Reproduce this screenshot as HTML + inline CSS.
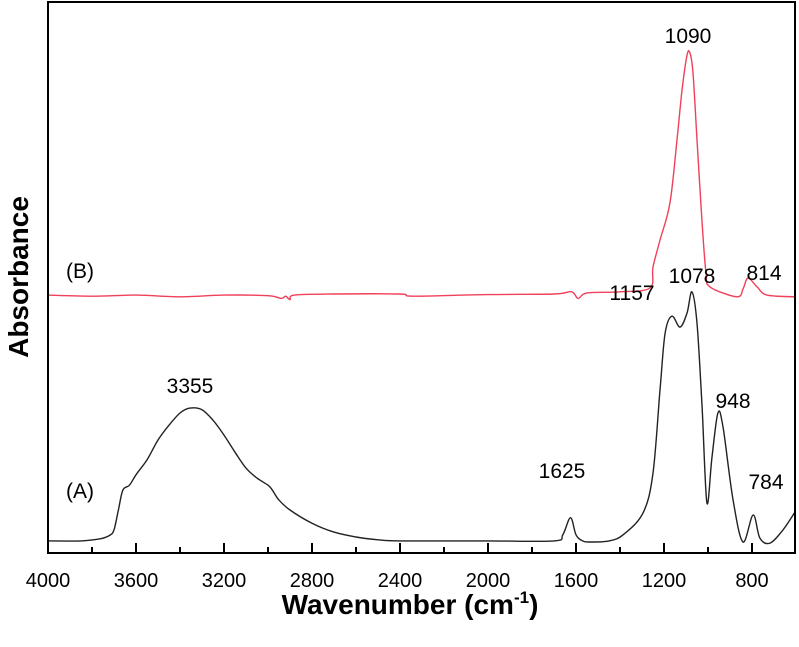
<!DOCTYPE html>
<html><head><meta charset="utf-8"><style>
html,body{margin:0;padding:0;background:#fff;}
svg{display:block;font-family:"Liberation Sans",Arial,sans-serif;}
</style></head><body>
<svg id="chart" width="799" height="647" viewBox="0 0 799 647" xmlns="http://www.w3.org/2000/svg">
<g id="ticks"></g>
<g id="series"></g>
<rect x="48" y="2" width="747" height="551" fill="none" stroke="#000" stroke-width="2"/>
<text transform="translate(28,277) rotate(-90)" text-anchor="middle" font-size="28" font-weight="bold">Absorbance</text>
<text x="410" y="614" text-anchor="middle" font-size="28" font-weight="bold">Wavenumber (cm<tspan font-size="17" dy="-11">-1</tspan><tspan dy="11">)</tspan></text>
<g font-size="21">
<text x="66" y="278">(B)</text>
<text x="66" y="498">(A)</text>
<text x="190" y="393" text-anchor="middle">3355</text>
<text x="562" y="478" text-anchor="middle">1625</text>
<text x="632" y="300" text-anchor="middle">1157</text>
<text x="692" y="283" text-anchor="middle">1078</text>
<text x="688" y="43" text-anchor="middle">1090</text>
<text x="764" y="280" text-anchor="middle">814</text>
<text x="733" y="408" text-anchor="middle">948</text>
<text x="766" y="489" text-anchor="middle">784</text>
</g>
</svg>
<script>
const xTicks=[4000,3600,3200,2800,2400,2000,1600,1200,800];
const xMinor=[3800,3400,3000,2600,2200,1800,1400,1000];
const wnA=[4000,3850,3760,3720,3700,3680,3660,3630,3600,3550,3500,3450,3400,3355,3300,3250,3200,3150,3100,3050,3000,2980,2950,2900,2800,2700,2600,2500,2400,2000,1700,1660,1625,1600,1570,1536,1450,1386,1295,1250,1218,1195,1164,1127,1095,1073,1050,1027,1005,982,955,932,886,841,795,764,718,659,605];
const absA=[.022,.022,.026,.032,.042,.078,.114,.123,.142,.169,.205,.232,.254,.263,.260,.241,.214,.183,.154,.136,.123,.114,.096,.078,.054,.038,.029,.024,.022,.022,.022,.033,.064,.033,.022,.020,.022,.033,.073,.145,.296,.399,.430,.410,.436,.474,.417,.265,.091,.174,.254,.229,.096,.020,.069,.027,.018,.042,.074];
const wnB=[4000,3800,3600,3400,3200,3000,2940,2920,2900,2880,2700,2400,2340,2000,1700,1620,1590,1550,1400,1264,1250,1218,1173,1141,1118,1095,1082,1068,1050,1027,1009,991,868,840,818,777,732,605];
const absB=[.468,.466,.468,.465,.468,.467,.462,.466,.460,.468,.470,.470,.466,.469,.470,.474,.462,.472,.474,.481,.519,.568,.635,.750,.840,.904,.907,.871,.750,.599,.508,.483,.465,.480,.499,.483,.468,.465];
const X=w=>48+(4000-w)*0.22;
const Y=a=>553-a*551;
const NS="http://www.w3.org/2000/svg";
const tg=document.getElementById('ticks');
xTicks.forEach(t=>{
 const l=document.createElementNS(NS,'line');
 l.setAttribute('x1',X(t));l.setAttribute('x2',X(t));l.setAttribute('y1',553);l.setAttribute('y2',543);
 l.setAttribute('stroke','#000');l.setAttribute('stroke-width','2');
 
 
 tg.appendChild(l);
 const tx=document.createElementNS(NS,'text');
 tx.setAttribute('x',X(t));tx.setAttribute('y',587);tx.setAttribute('text-anchor','middle');tx.setAttribute('font-size','20');
 tx.textContent=t;
 
 
 tg.appendChild(tx);
});
xMinor.forEach(t=>{
 const l=document.createElementNS(NS,'line');
 l.setAttribute('x1',X(t));l.setAttribute('x2',X(t));l.setAttribute('y1',553);l.setAttribute('y2',547);
 l.setAttribute('stroke','#000');l.setAttribute('stroke-width','2');
 
 
 tg.appendChild(l);
});
const sg=document.getElementById('series');
function draw(wn,ab,color,name){
 const pts=wn.map((w,i)=>[X(w),Y(ab[i])]);
 let d='M'+pts[0][0].toFixed(1)+' '+pts[0][1].toFixed(1);
 for(let i=0;i<pts.length-1;i++){
  const p0=pts[Math.max(0,i-1)],p1=pts[i],p2=pts[i+1],p3=pts[Math.min(pts.length-1,i+2)];
  const c1=[p1[0]+(p2[0]-p0[0])/6,p1[1]+(p2[1]-p0[1])/6];
  const c2=[p2[0]-(p3[0]-p1[0])/6,p2[1]-(p3[1]-p1[1])/6];
  d+=' C'+c1.map(v=>v.toFixed(1)).join(' ')+' '+c2.map(v=>v.toFixed(1)).join(' ')+' '+p2.map(v=>v.toFixed(1)).join(' ');
 }
 const p=document.createElementNS(NS,'path');
 p.setAttribute('d',d);
 p.setAttribute('fill','none');p.setAttribute('stroke',color);p.setAttribute('stroke-width','1.4');p.setAttribute('stroke-linejoin','round');
 
 
 sg.appendChild(p);
}
draw(wnA,absA,'#222','spectrum-a');
draw(wnB,absB,'#f0405a','spectrum-b');
</script>
</body></html>
